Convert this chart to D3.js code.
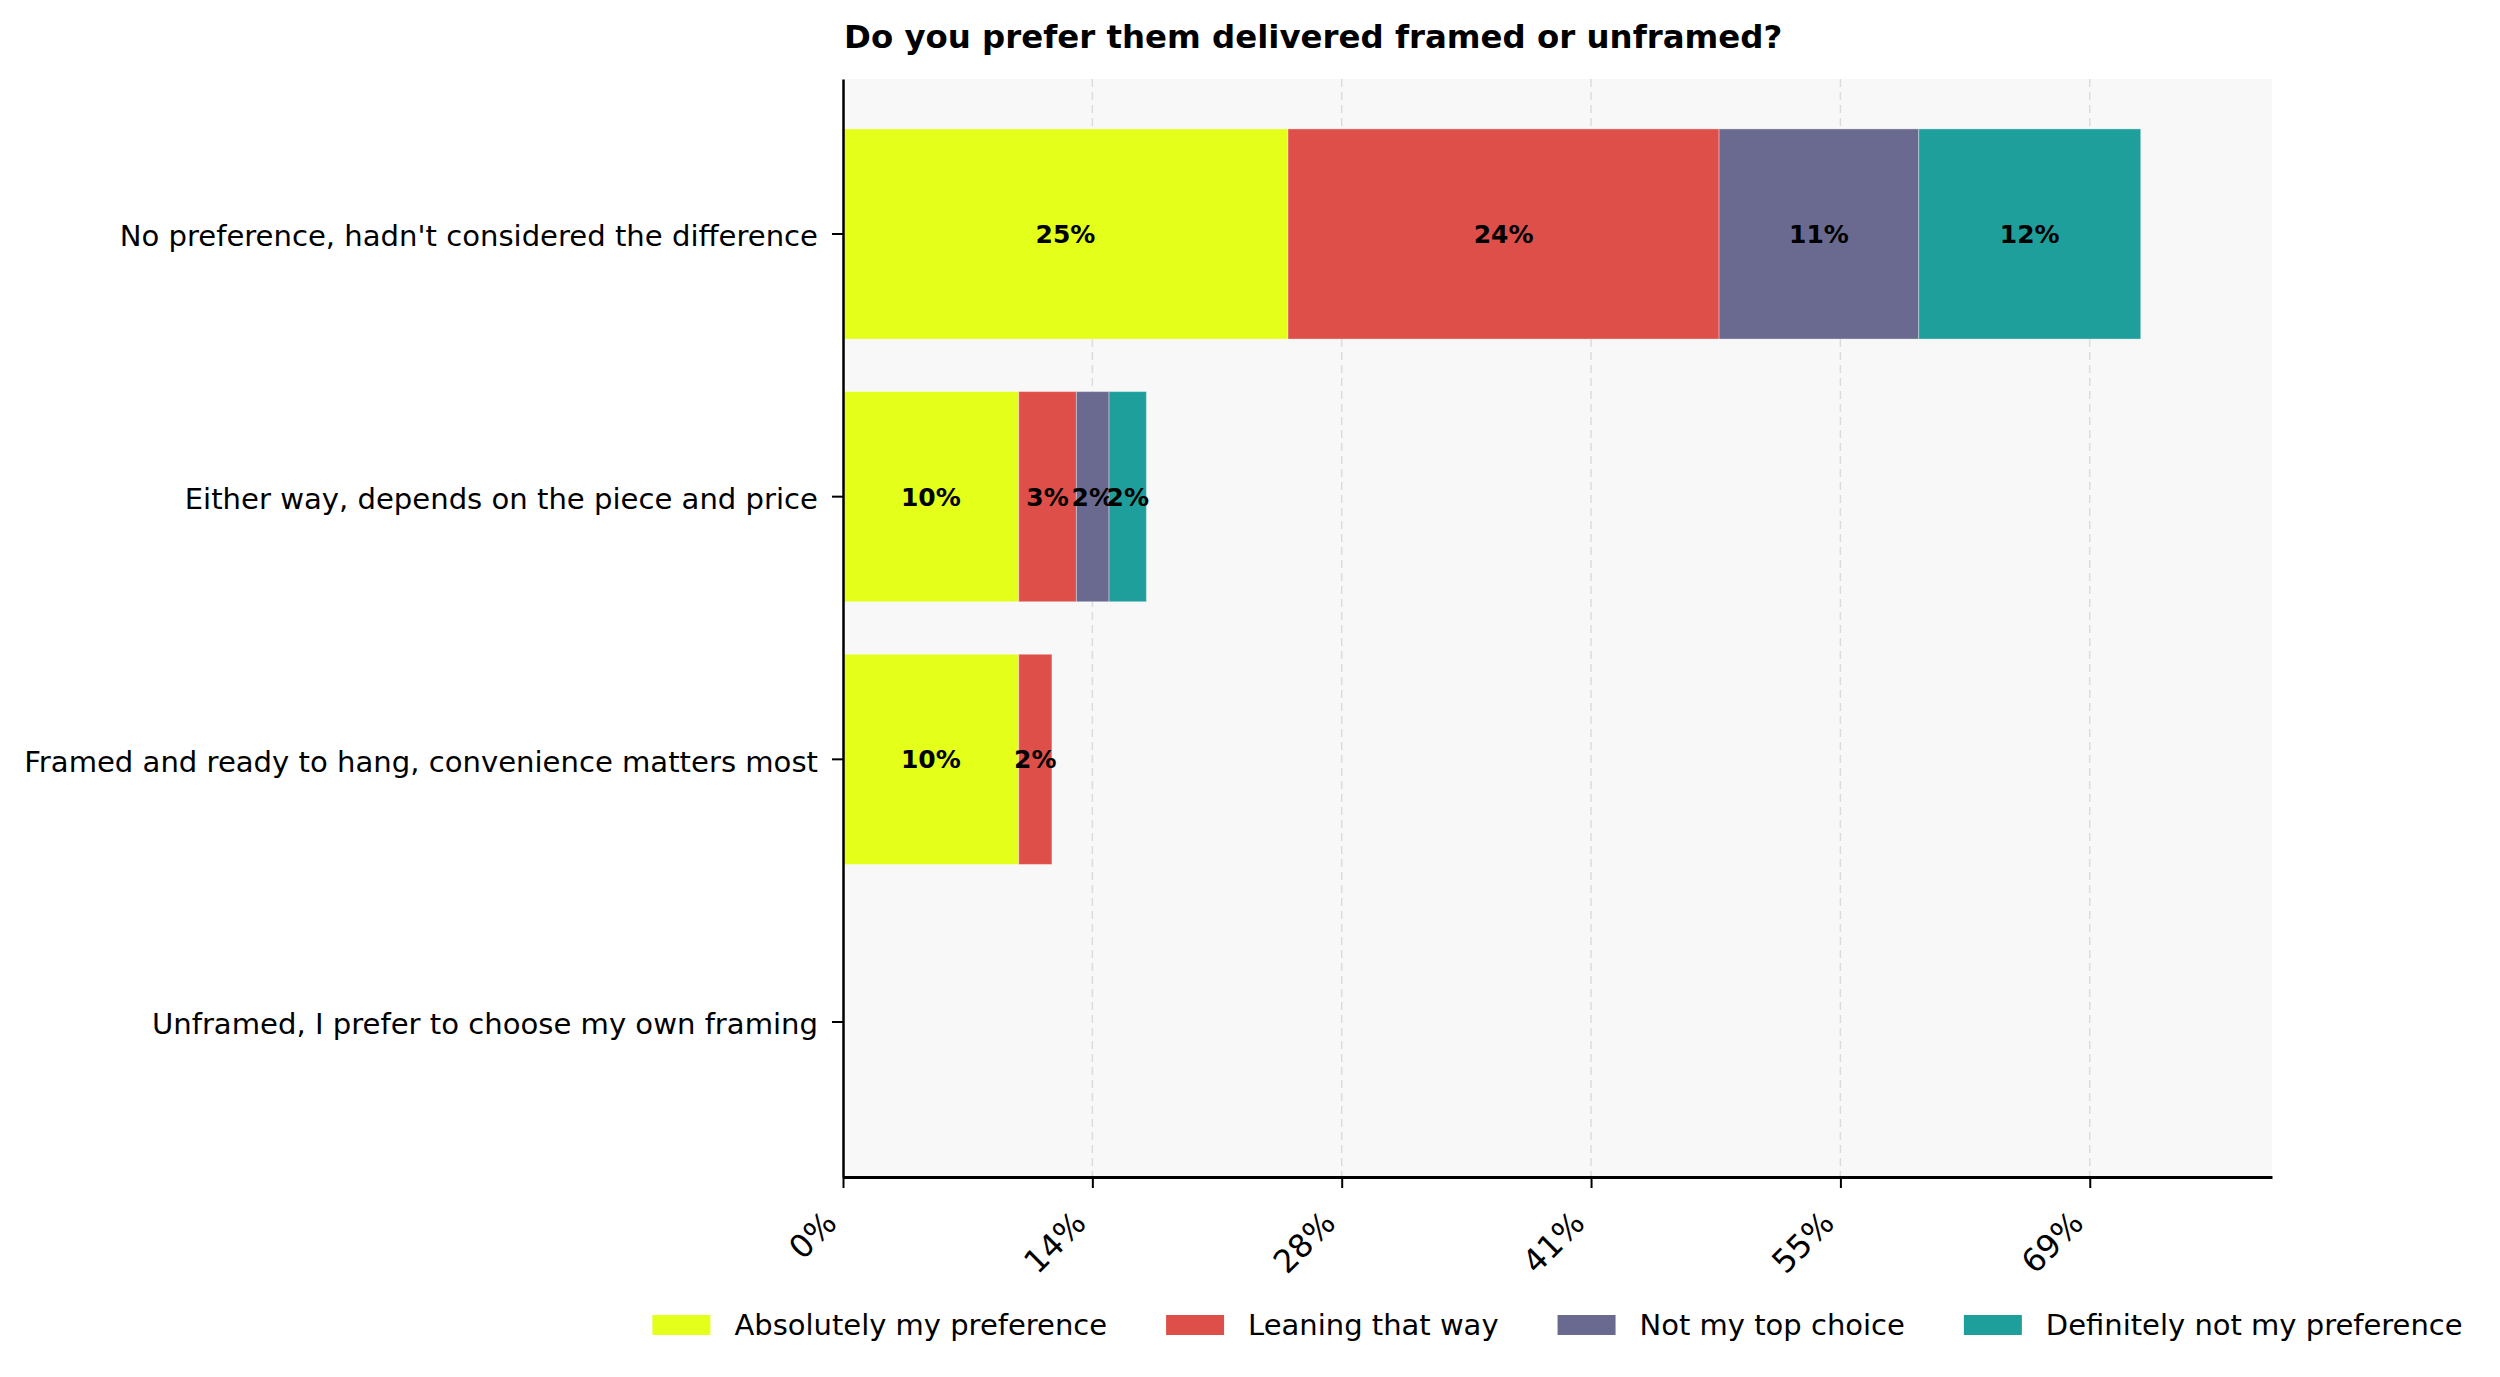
<!DOCTYPE html>
<html>
<head>
<meta charset="utf-8">
<title>Do you prefer them delivered framed or unframed?</title>
<script src="https://cdn.jsdelivr.net/npm/d3@7"></script>
<style>
    body { margin: 0; background: #fff; }
    svg { font-family: "DejaVu Sans", sans-serif; }
</style>
</head>
<body>
<script>
// categories (top to bottom) and response series
const categories = [
    "No preference, hadn't considered the difference",
    "Either way, depends on the piece and price",
    "Framed and ready to hang, convenience matters most",
    "Unframed, I prefer to choose my own framing"
];
const seriesNames = [
    "Absolutely my preference",
    "Leaning that way",
    "Not my top choice",
    "Definitely not my preference"
];
const absolutely = [24.54, 9.69, 9.69, 0];
const leaning = [23.77, 3.18, 1.83, 0];
const notTop = [11.01, 1.80, 0, 0];
const definitelyNot = [12.24, 2.06, 0, 0];
const tickValues = [0, 13.75, 27.5, 41.25, 55, 68.75];
const tickLabels = ["0%", "14%", "28%", "41%", "55%", "69%"];
const colors = ["#e3ff1a", "#df4f4a", "#6a6a90", "#1f9f9c"];

const width = 2500;
const height = 1377;
const margin = { top: 79, right: 228, bottom: 200, left: 843 };
const plotW = width - margin.left - margin.right;
const plotH = height - margin.top - margin.bottom;
const xMax = 78.8;

const seriesValues = [absolutely, leaning, notTop, definitelyNot];
const table = categories.map((c, i) => {
    const row = { category: c };
    seriesNames.forEach((s, j) => { row[s] = seriesValues[j][i]; });
    return row;
});
const stacked = d3.stack().keys(seriesNames)(table);

const svg = d3.select('body')
    .append('svg')
    .attr('width', width)
    .attr('height', height);

const g = svg.append('g')
    .attr('transform', `translate(${margin.left}, ${margin.top})`);

const xScale = d3.scaleLinear().domain([0, xMax]).range([0, plotW]);
const yScale = d3.scaleBand()
    .domain(categories)
    .range([0, plotH])
    .paddingInner(0.2)
    .paddingOuter(0.19);
const colorScale = d3.scaleOrdinal().domain(seriesNames).range(colors);

// plot background
g.append('rect')
    .attr('width', plotW)
    .attr('height', plotH)
    .attr('fill', '#f8f8f8');

// vertical dashed grid
g.selectAll('.grid')
    .data(tickValues.slice(1))
    .enter()
    .append('line')
    .attr('x1', d => xScale(d))
    .attr('x2', d => xScale(d))
    .attr('y1', 0)
    .attr('y2', plotH)
    .attr('stroke', '#dcdcdc')
    .attr('stroke-width', 1.5)
    .attr('stroke-dasharray', '8,5');

// bars
const layers = g.selectAll('.layer')
    .data(stacked)
    .enter()
    .append('g')
    .attr('fill', d => colorScale(d.key));

layers.selectAll('rect')
    .data(d => d.filter(p => p[1] - p[0] > 0))
    .enter()
    .append('rect')
    .attr('x', d => xScale(d[0]))
    .attr('y', d => yScale(d.data.category))
    .attr('width', d => xScale(d[1]) - xScale(d[0]))
    .attr('height', yScale.bandwidth())
    .attr('stroke', '#ffffff')
    .attr('stroke-opacity', 0.35)
    .attr('stroke-width', 1);

// value labels
layers.selectAll('text')
    .data(d => d.filter(p => p[1] - p[0] > 0))
    .enter()
    .append('text')
    .attr('x', d => xScale((d[0] + d[1]) / 2))
    .attr('y', d => yScale(d.data.category) + yScale.bandwidth() / 2)
    .attr('dy', '0.36em')
    .attr('text-anchor', 'middle')
    .attr('fill', '#000')
    .style('font-size', '25px')
    .style('font-weight', 'bold')
    .text(d => Math.round(d[1] - d[0]) + '%');

// x axis
const xAxis = g.append('g')
    .attr('transform', `translate(0, ${plotH})`)
    .call(d3.axisBottom(xScale)
        .tickValues(tickValues)
        .tickFormat((d, i) => tickLabels[i])
        .tickSize(11)
        .tickSizeOuter(0));
xAxis.select('.domain').attr('stroke', '#000').attr('stroke-width', 3);
xAxis.selectAll('.tick line').attr('stroke', '#000').attr('stroke-width', 2);
xAxis.selectAll('.tick text')
    .attr('fill', '#000')
    .style('font-size', '32px')
    .style('font-family', '"DejaVu Sans", sans-serif')
    .attr('text-anchor', 'end')
    .attr('dy', null)
    .attr('y', 0)
    .attr('transform', 'translate(-5, 48) rotate(-45)');

// y axis
const yAxis = g.append('g')
    .call(d3.axisLeft(yScale).tickSize(11).tickPadding(14).tickSizeOuter(0));
yAxis.select('.domain').attr('stroke', '#000').attr('stroke-width', 2.5);
yAxis.selectAll('.tick line').attr('stroke', '#000').attr('stroke-width', 2);
yAxis.selectAll('.tick text')
    .attr('fill', '#000')
    .attr('dy', '0.42em')
    .style('font-size', '29.1px')
    .style('font-family', '"DejaVu Sans", sans-serif');

// title
svg.append('text')
    .attr('x', margin.left + 1)
    .attr('y', 48)
    .attr('fill', '#000')
    .style('font-size', '32.4px')
    .style('font-weight', 'bold')
    .text('Do you prefer them delivered framed or unframed?');

// legend, centred below the plot
const legend = svg.append('g');
const swatchW = 58, swatchH = 20, textGap = 24, itemGap = 59;
let cursor = 0;
seriesNames.forEach((name, i) => {
    const item = legend.append('g').attr('transform', `translate(${cursor}, 0)`);
    item.append('rect')
        .attr('y', -swatchH / 2)
        .attr('width', swatchW)
        .attr('height', swatchH)
        .attr('fill', colors[i]);
    const t = item.append('text')
        .attr('x', swatchW + textGap)
        .attr('y', 10)
        .attr('fill', '#000')
        .style('font-size', '29px')
        .text(name);
    cursor += swatchW + textGap + t.node().getComputedTextLength() + itemGap;
});
const legendW = cursor - itemGap;
legend.attr('transform', `translate(${margin.left + plotW / 2 - legendW / 2}, 1325)`);
</script>
</body>
</html>
